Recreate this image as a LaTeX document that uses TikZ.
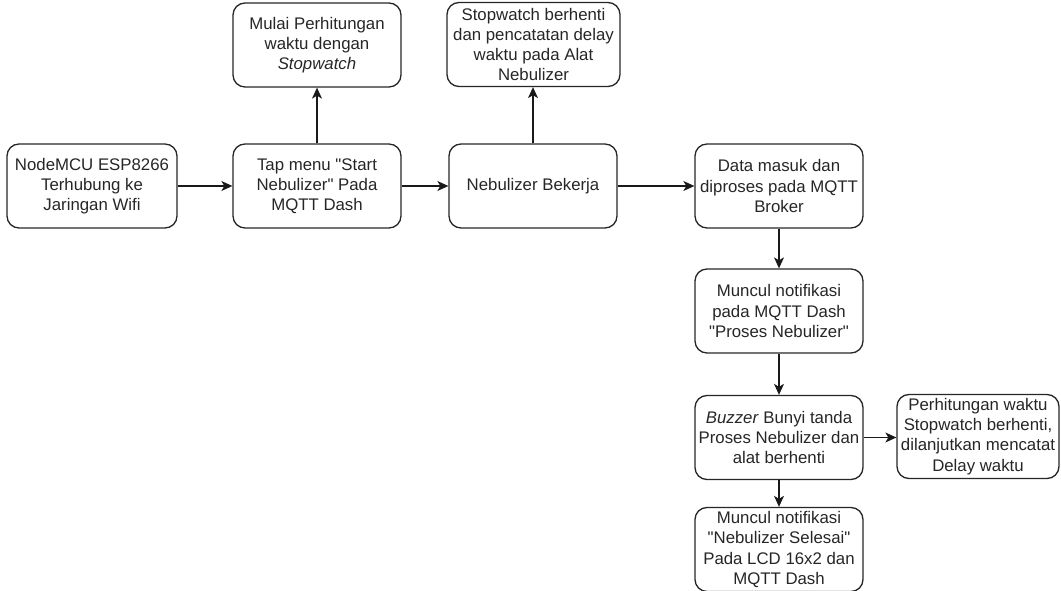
\documentclass[tikz,border=0pt]{standalone}
\usepackage{fontspec}
\setmainfont{Liberation Sans}[Ligatures=TeXOff]
\usetikzlibrary{arrows.meta}
\begin{document}
\begin{tikzpicture}[x=1pt,y=-1pt,
 box/.style={draw=black!85, line width=1.3pt, rounded corners=12pt, minimum width=168pt, minimum height=84pt, align=center, inner sep=0pt, font=\fontsize{16.8}{20.2}\selectfont, text=black!85},
 arr/.style={line width=1.3pt, draw=black!90, -{Stealth[length=11pt,width=10pt,inset=3pt]}}]
\useasboundingbox (0,0) rectangle (1061,591);
\node[box, minimum width=170pt] (n1) at (92,186) {NodeMCU ESP8266\\Terhubung ke\\Jaringan Wifi};
\node[box] (n2) at (317,186) {Tap menu "Start\\Nebulizer" Pada\\MQTT Dash};
\node[box] (n3) at (317,45) {Mulai Perhitungan\\waktu dengan\\\textit{Stopwatch}};
\node[box] (n4) at (533,186) {Nebulizer Bekerja};
\node[box, minimum width=173pt] (n5) at (533.5,44.5) {Stopwatch berhenti\\dan pencatatan delay\\waktu pada Alat\\Nebulizer};
\node[box] (n6) at (779,186) {Data masuk dan\\diproses pada MQTT\\Broker};
\node[box] (n7) at (779,311) {Muncul notifikasi\\pada MQTT Dash\\"Proses Nebulizer"};
\node[box] (n8) at (779,437.5) {\textit{Buzzer} Bunyi tanda\\Proses Nebulizer dan\\alat berhenti};
\node[box, minimum width=162pt] (n9) at (978,436.5) {Perhitungan waktu\\Stopwatch berhenti,\\dilanjutkan mencatat\\Delay waktu};
\node[box] (n10) at (779,549.5) {Muncul notifikasi\\"Nebulizer Selesai"\\Pada LCD 16x2 dan\\MQTT Dash};
\draw[arr] (n1.east) -- (n2.west);
\draw[arr] (n2.east) -- (n4.west);
\draw[arr] (n4.east) -- (n6.west);
\draw[arr] (n2.north) -- (n3.south);
\draw[arr] (n4.north) -- (n4.north |- n5.south);
\draw[arr] (n6.south) -- (n7.north);
\draw[arr] (n7.south) -- (n8.north);
\draw[arr] (n8.east) -- (n8.east -| n9.west);
\draw[arr] (n8.south) -- (n10.north);
\end{tikzpicture}
\end{document}
